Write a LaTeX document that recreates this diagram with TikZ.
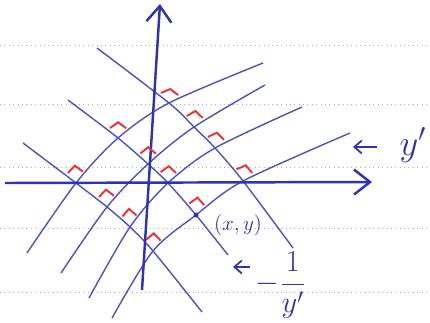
\documentclass[tikz,border=0pt]{standalone}
\usepackage{xcolor}
\usepackage{amsmath}
\usepackage{tikz}
\usetikzlibrary{arrows.meta, calc}
\definecolor{penblue}{RGB}{78,82,190}
\definecolor{inkblue}{RGB}{48,52,172}
\definecolor{markred}{RGB}{228,52,52}
\definecolor{rulegray}{RGB}{175,175,188}
\tikzset{
  axis/.style={-{Straight Barb[length=0.32cm,width=0.5cm]}, line width=1.4pt, color=inkblue},
  curve/.style={line width=0.8pt, color=penblue},
  ortho/.style={line width=0.8pt, color=penblue},
  rtangle/.style={line width=1.1pt, color=markred},
  lblarrow/.style={-{Straight Barb[length=0.15cm,width=0.26cm]}, line width=1pt, color=inkblue},
  ruling/.style={dotted, line width=0.5pt, color=rulegray},
  lbl/.style={text=inkblue, inner sep=0pt}
}
% right-angle mark at #1, legs toward #2 (along the line) and #3 (along the curve)
\newcommand{\rtmark}[3]{%
  \path (#1) coordinate (rtp) ($(#1)!0.2cm!(#2)$) coordinate (rta) ($(#1)!0.2cm!(#3)$) coordinate (rtb);
  \draw[rtangle] ($(rta)+(0,-4)$) -- ($(rta)+(rtb)-(rtp)+(0,-4)$) -- ($(rtb)+(0,-4)$);
}

\begin{document}
\begin{tikzpicture}[x=0.02cm, y=-0.02cm]
  \useasboundingbox (0,0) rectangle (430,322);
  \foreach \ry in {45,104,167,228,292} \draw[ruling] (0,\ry) -- (430,\ry);

  % intersections: p<curve><line>
  \coordinate (p11) at (76,183);  \coordinate (p12) at (118,138); \coordinate (p13) at (169,103);
  \coordinate (p21) at (107,207); \coordinate (p22) at (148,164); \coordinate (p23) at (194,127);
  \coordinate (p31) at (130,227); \coordinate (p32) at (168,183); \coordinate (p33) at (215,148);
  \coordinate (p41) at (153,251); \coordinate (p42) at (196,215); \coordinate (p43) at (243,181);
  \coordinate (c1s) at (27,253);  \coordinate (c1e) at (263,63);
  \coordinate (c2s) at (61,273);  \coordinate (c2e) at (265,85);
  \coordinate (c3s) at (89,298);  \coordinate (c3e) at (302,107);
  \coordinate (c4s) at (112,318); \coordinate (c4e) at (350,133);
  \coordinate (l1s) at (23,143);  \coordinate (l1e) at (202,312);
  \coordinate (l2s) at (68,100);  \coordinate (l2e) at (228,255);
  \coordinate (l3s) at (97,48);   \coordinate (l3e) at (293,248);

  \draw[curve] plot[smooth] coordinates {(c1s) (p11) (p12) (p13) (c1e)};
  \draw[curve] plot[smooth] coordinates {(c2s) (p21) (p22) (p23) (c2e)};
  \draw[curve] plot[smooth] coordinates {(c3s) (p31) (p32) (p33) (c3e)};
  \draw[curve] plot[smooth] coordinates {(c4s) (p41) (p42) (p43) (c4e)};
  \draw[ortho] plot[smooth] coordinates {(l1s) (p11) (p21) (p31) (p41) (l1e)};
  \draw[ortho] plot[smooth] coordinates {(l2s) (p12) (p22) (p32) (p42) (l2e)};
  \draw[ortho] plot[smooth] coordinates {(l3s) (p13) (p23) (p33) (p43) (l3e)};

  % axes
  \coordinate (vbot) at (142,290); \coordinate (vtop) at (160,4);
  \coordinate (hleft) at (5,183);  \coordinate (hright) at (372,182);
  \draw[axis] (vbot) -- (vtop);
  \draw[axis] (hleft) -- (hright);

  \foreach \pt/\up/\rt in {p11/l1s/p12, p12/l2s/p13, p13/l3s/c1e,
                           p21/p11/p22, p22/p12/p23, p23/p13/c2e,
                           p31/p21/p32, p32/p22/p33, p33/p23/c3e,
                           p41/p31/p42, p42/p32/p43, p43/p33/c4e}
    {\rtmark{\pt}{\up}{\rt}}

  \fill[inkblue] (p42) circle (0.05cm);
  \node[lbl, font=\large] (ptlab) at (238,225) {$(x,y)$};

  \node[lbl, font=\huge] (slope) at (413,145) {$y'$};
  \coordinate (slopetip) at (353,147);
  \draw[lblarrow, shorten <=0.45cm] (slope.west |- slopetip) -- (slopetip);

  \node[lbl, font=\LARGE] (normal) at (281,285) {$-\dfrac{1}{y'}$};
  \coordinate (normaltip) at (233,267);
  \draw[lblarrow, shorten <=0.12cm] (normal.west |- normaltip) -- (normaltip);
\end{tikzpicture}
\end{document}
